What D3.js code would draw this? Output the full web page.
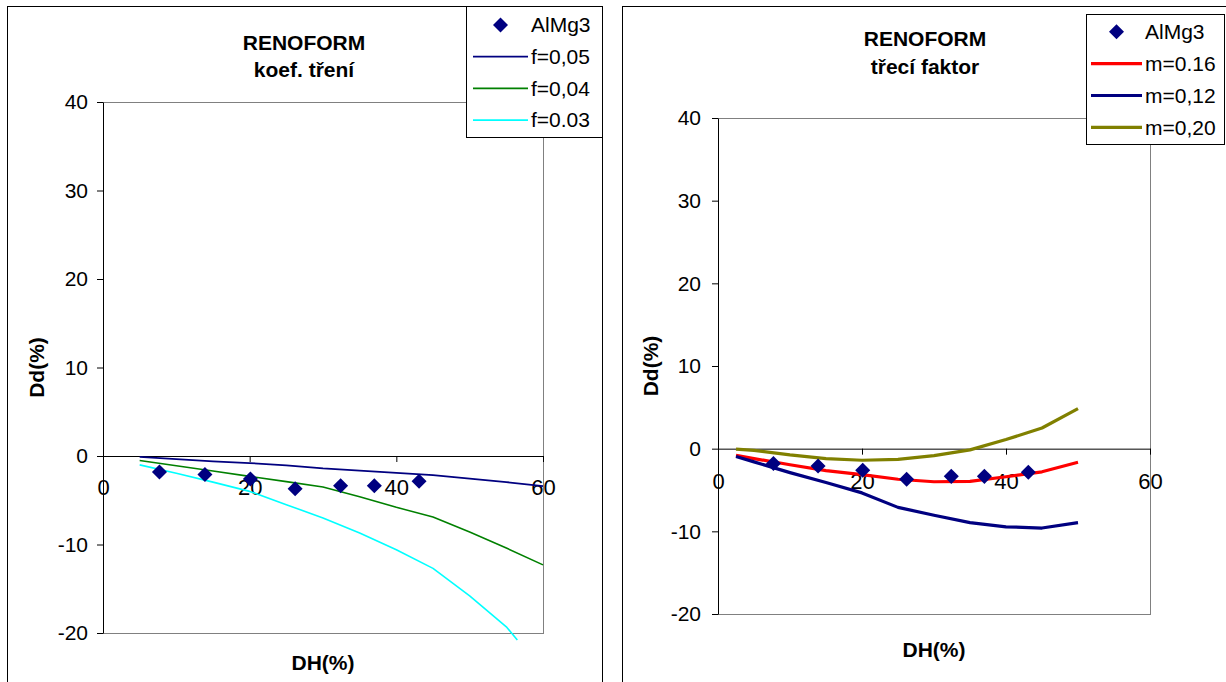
<!DOCTYPE html>
<html>
<head>
<meta charset="utf-8">
<script src="https://cdn.jsdelivr.net/npm/d3@7"></script>
<style>
body { margin: 0; background: #fff; }
svg { display: block; font-family: "Liberation Sans", Arial, sans-serif; }
</style>
</head>
<body>
<script>
// Values

// Axis ticks (same on both charts)
var dhTicks = [0, 20, 40, 60];
var ddTicks = [-20, -10, 0, 10, 20, 30, 40];

// Measured AlMg3 points (shown on both charts)
var expDH = [7.7, 13.9, 20.1, 26.2, 32.4, 37.0, 43.1];
var expDd = [-1.8, -2.1, -2.6, -3.7, -3.35, -3.35, -2.85];

// Left chart - koef. tření
var fDH = [5, 10, 15, 20, 25, 30, 35, 40, 45, 50, 55, 60];
var f05 = [-0.1, -0.35, -0.6, -0.8, -1.05, -1.4, -1.65, -1.9, -2.15, -2.55, -2.95, -3.4];
var f04 = [-0.5, -1.1, -1.7, -2.3, -2.9, -3.5, -4.6, -5.8, -6.9, -8.6, -10.4, -12.3];
var f03DH = [5, 10, 15, 20, 25, 30, 35, 40, 45, 50, 55, 56.5];
var f03 = [-1.0, -1.95, -2.95, -4.0, -5.5, -7.0, -8.7, -10.6, -12.7, -15.8, -19.3, -20.8];

// Right chart - třecí faktor
var mDH = [2.5, 5, 10, 15, 20, 25, 30, 35, 40, 45, 50];
var m16 = [-0.8, -1.2, -1.95, -2.65, -3.15, -3.7, -4.0, -3.95, -3.4, -2.8, -1.65];
var m12 = [-0.95, -1.6, -2.9, -4.1, -5.35, -7.1, -8.05, -8.95, -9.45, -9.6, -8.95];
var m20 = [-0.05, -0.2, -0.75, -1.2, -1.4, -1.3, -0.85, -0.15, 1.1, 2.5, 4.85];

var svg = d3.select("body").append("svg")
    .attr("width", 1226)
    .attr("height", 682);

var diamond = d3.symbol().type(d3.symbolSquare).size(113);

function drawChart(c) {
    var g = svg.append("g");

    // outer chart border
    g.append("rect")
        .attr("x", c.box[0] + 0.5).attr("y", c.box[1] + 0.5)
        .attr("width", c.box[2]).attr("height", c.box[3])
        .attr("fill", "#fff").attr("stroke", "#000");

    var x = d3.scaleLinear().domain([0, 60]).range([c.left, c.right]);
    var y = d3.scaleLinear().domain([-20, 40]).range([c.bottom, c.top]);

    // plot area frame
    g.append("rect")
        .attr("x", x(0) + 0.5).attr("y", y(40) + 0.5)
        .attr("width", x(60) - x(0)).attr("height", y(-20) - y(40))
        .attr("fill", "none").attr("stroke", "#808080");

    // y axis
    g.append("g")
        .attr("transform", "translate(" + x(0) + ",0)")
        .call(d3.axisLeft(y).tickValues(ddTicks).tickSize(6).tickSizeOuter(0)
            .tickPadding(c.yPad).tickFormat(String))
        .attr("font-family", null)
        .attr("font-size", 21);

    // x axis crosses at 0
    g.append("g")
        .attr("transform", "translate(0," + y(0) + ")")
        .call(d3.axisBottom(x).tickValues(dhTicks).tickSize(6).tickSizeOuter(0)
            .tickPadding(c.xPad).tickFormat(String))
        .attr("font-family", null)
        .attr("font-size", 22);

    // simulated curves
    var line = d3.line()
        .x(function(d) { return x(d[0]); })
        .y(function(d) { return y(d[1]); });

    c.series.forEach(function(s) {
        g.append("path")
            .datum(d3.zip(s.dh, s.dd))
            .attr("fill", "none")
            .attr("stroke", s.color)
            .attr("stroke-width", s.width)
            .attr("stroke-linejoin", "round")
            .attr("d", line);
    });

    // measured points
    g.selectAll(".pt")
        .data(d3.zip(expDH, expDd))
        .enter().append("path")
        .attr("class", "pt")
        .attr("d", diamond)
        .attr("fill", "#000080")
        .attr("transform", function(d) {
            return "translate(" + x(d[0]) + "," + y(d[1]) + ") rotate(45)";
        });

    // titles
    g.append("text")
        .attr("x", c.titleX).attr("y", c.titleY[0])
        .attr("text-anchor", "middle").attr("font-weight", "bold").attr("font-size", 21)
        .text("RENOFORM");
    g.append("text")
        .attr("x", c.titleX).attr("y", c.titleY[1])
        .attr("text-anchor", "middle").attr("font-weight", "bold").attr("font-size", 21)
        .text(c.subtitle);

    g.append("text")
        .attr("transform", "translate(" + c.yTitleX + "," + (y(40) + y(-20)) / 2 + ") rotate(-90)")
        .attr("text-anchor", "middle").attr("font-weight", "bold").attr("font-size", 21)
        .text("Dd(%)");
    g.append("text")
        .attr("x", (x(0) + x(60)) / 2).attr("y", c.xTitleY)
        .attr("text-anchor", "middle").attr("font-weight", "bold").attr("font-size", 21)
        .text("DH(%)");

    // legend
    var lg = g.append("g");
    lg.append("rect")
        .attr("x", c.legend[0] + 0.5).attr("y", c.legend[1] + 0.5)
        .attr("width", c.legend[2]).attr("height", c.legend[3])
        .attr("fill", "#fff").attr("stroke", "#000");

    var rows = [{ name: "AlMg3" }].concat(c.series);
    rows.forEach(function(r, i) {
        var ry = c.legendRow0 + i * c.legendStep;
        if (r.color) {
            lg.append("line")
                .attr("x1", c.legend[0] + c.sample[0]).attr("x2", c.legend[0] + c.sample[1])
                .attr("y1", ry).attr("y2", ry)
                .attr("stroke", r.color).attr("stroke-width", r.width);
        } else {
            lg.append("path")
                .attr("d", diamond)
                .attr("fill", "#000080")
                .attr("transform", "translate(" + (c.legend[0] + (c.sample[0] + c.sample[1]) / 2) + "," + ry + ") rotate(45)");
        }
        lg.append("text")
            .attr("x", c.legend[0] + c.sample[1] + 3).attr("y", ry)
            .attr("dy", "0.35em").attr("font-size", 21)
            .text(r.name);
    });
}

drawChart({
    box: [7, 6, 595, 700],
    left: 103, right: 543, top: 102, bottom: 633,
    yPad: 9, xPad: 17,
    titleX: 304, titleY: [50, 77], subtitle: "koef. tření",
    yTitleX: 44, xTitleY: 670,
    legend: [466, 6, 136, 131], legendRow0: 25, legendStep: 31.7, sample: [7, 62],
    series: [
        { name: "f=0,05", dh: fDH, dd: f05, color: "#000080", width: 1.8 },
        { name: "f=0,04", dh: fDH, dd: f04, color: "#008000", width: 1.6 },
        { name: "f=0.03", dh: f03DH, dd: f03, color: "#00FFFF", width: 1.6 }
    ]
});

drawChart({
    box: [622, 6, 700, 700],
    left: 718, right: 1150, top: 118, bottom: 614,
    yPad: 11, xPad: 19,
    titleX: 925, titleY: [46, 74], subtitle: "třecí faktor",
    yTitleX: 658, xTitleY: 657,
    legend: [1086, 14, 138, 130], legendRow0: 31.7, legendStep: 31.9, sample: [5, 56],
    series: [
        { name: "m=0.16", dh: mDH, dd: m16, color: "#FF0000", width: 3.2 },
        { name: "m=0,12", dh: mDH, dd: m12, color: "#000080", width: 3.2 },
        { name: "m=0,20", dh: mDH, dd: m20, color: "#808000", width: 3.2 }
    ]
});
</script>
</body>
</html>
